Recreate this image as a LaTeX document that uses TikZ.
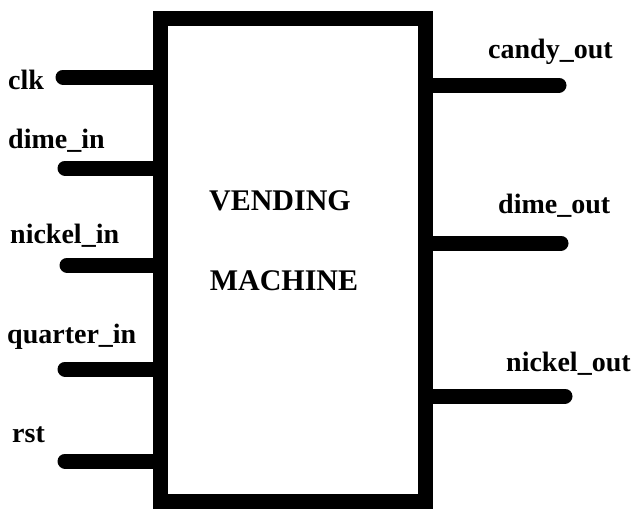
\documentclass[tikz,border=0pt]{standalone}
\usepackage{fontspec}
\setmainfont{Liberation Serif}
\usetikzlibrary{positioning}

\begin{document}
\begin{tikzpicture}[
    x=1pt, y=-1pt,
    block/.style={rectangle, draw, line width=15pt, minimum width=265pt, minimum height=483pt, inner sep=0pt, outer sep=0pt},
    pin/.style={line width=15pt, line cap=round},
    port label/.style={anchor=base west, inner sep=0pt, font=\fontsize{28}{30}\selectfont\bfseries},
    title/.style={anchor=base, inner sep=0pt, font=\fontsize{30}{33}\selectfont\bfseries},
  ]
  \useasboundingbox (0,0) rectangle (638,509);

  % Block (the vending machine)
  \node[block] (vm) at (292.5,259.5) {};
  \node[title] (vending) at (280,210) {VENDING};
  \node[title] (machine) at (284,290) {MACHINE};

  % Pin ends
  \coordinate (clk) at (63,77);
  \coordinate (dime) at (65,168);
  \coordinate (nickel) at (67,265);
  \coordinate (quarter) at (65,369);
  \coordinate (rst) at (65,461);
  \coordinate (candy) at (559,85);
  \coordinate (dimeo) at (561,243);
  \coordinate (nickelo) at (565,396);

  % Inputs
  \draw[pin, shorten >=7.5pt] (clk) -- (vm.west |- clk);
  \draw[pin, shorten >=7.5pt] (dime) -- (vm.west |- dime);
  \draw[pin, shorten >=7.5pt] (nickel) -- (vm.west |- nickel);
  \draw[pin, shorten >=7.5pt] (quarter) -- (vm.west |- quarter);
  \draw[pin, shorten >=7.5pt] (rst) -- (vm.west |- rst);

  % Outputs
  \draw[pin, shorten <=7.5pt] (vm.east |- candy) -- (candy);
  \draw[pin, shorten <=7.5pt] (vm.east |- dimeo) -- (dimeo);
  \draw[pin, shorten <=7.5pt] (vm.east |- nickelo) -- (nickelo);

  % Labels
  \node[port label] (clk label) at (8,89) {clk};
  \node[port label] (dime label) at (8,148) {dime\_in};
  \node[port label] (nickel label) at (10,243) {nickel\_in};
  \node[port label] (quarter label) at (7,343) {quarter\_in};
  \node[port label] (rst label) at (12,442) {rst};
  \node[port label] (candy label) at (488,58) {candy\_out};
  \node[port label] (dimeo label) at (498,213) {dime\_out};
  \node[port label] (nickelo label) at (506,371) {nickel\_out};

  \end{tikzpicture}
\end{document}
